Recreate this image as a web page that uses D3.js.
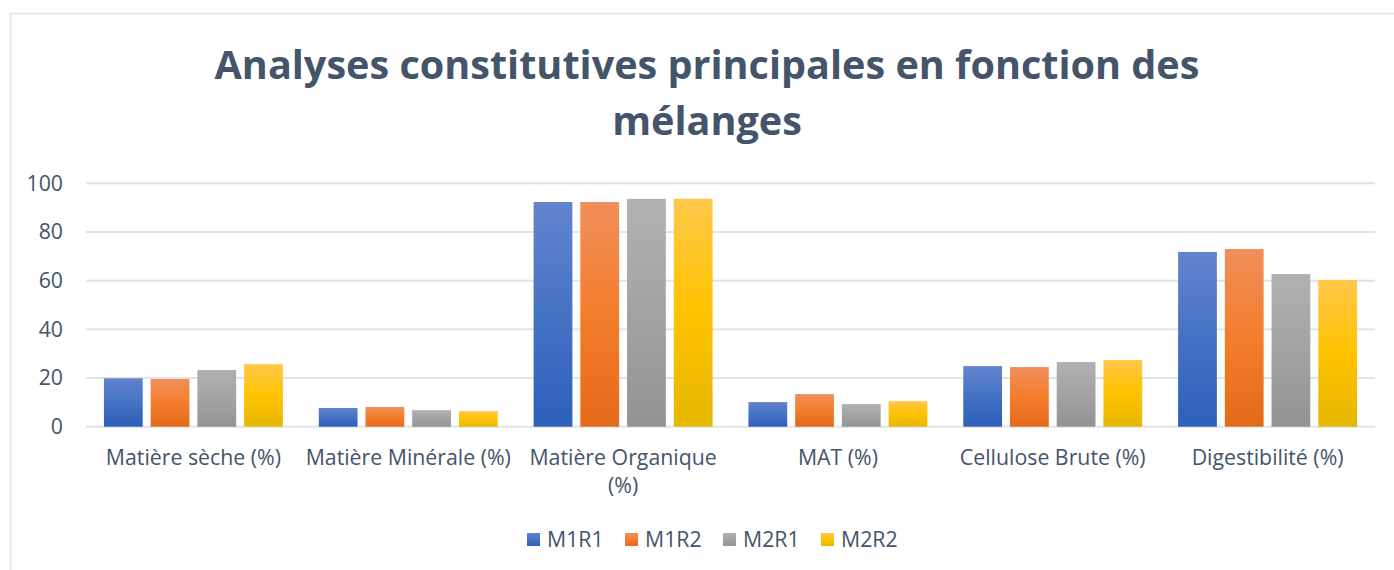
<!DOCTYPE html>
<html>
<head>
<meta charset="utf-8">
<script src="https://cdn.jsdelivr.net/npm/d3@7"></script>
<style>
    html, body { margin: 0; padding: 0; background: #ffffff; }
    svg { display: block; font-family: "Open Sans", "Noto Sans", sans-serif; }
</style>
</head>
<body>
<div id="chart"></div>
<script>
"use strict";

// categories along the x axis
const categories = [
    "Matière sèche (%)",
    "Matière Minérale (%)",
    "Matière Organique (%)",
    "MAT (%)",
    "Cellulose Brute (%)",
    "Digestibilité (%)"
];

const seriesNames = [ "M1R1", "M1R2", "M2R1", "M2R2" ];

// values, one array per series
const M1R1 = [ 19.9, 7.7, 92.3, 10.1, 24.9, 71.8 ];
const M1R2 = [ 19.6, 8.1, 92.3, 13.4, 24.5, 73.0 ];
const M2R1 = [ 23.3, 6.8, 93.6, 9.3, 26.6, 62.7 ];
const M2R2 = [ 25.7, 6.4, 93.6, 10.5, 27.4, 60.3 ];

const yTicks = [ 0, 20, 40, 60, 80, 100 ];

const titleLines = [ "Analyses constitutives principales en fonction des", "mélanges" ];

const seriesValues = [ M1R1, M1R2, M2R1, M2R2 ];

// top / middle / bottom colours of each bar gradient
const gradients = {
    M1R1: [ "#6384cd", "#4472c4", "#2e5fb9" ],
    M1R2: [ "#f08f5a", "#f47d2c", "#e36a18" ],
    M2R1: [ "#b1b1b1", "#a3a3a3", "#939393" ],
    M2R2: [ "#ffc84a", "#ffc300", "#e5b700" ]
};

const textColor = "#44546a";
const gridColor = "#dfe3ea";
const labelSize = 21.3;

const W = 1394, H = 570;
const plot = { left: 86, right: 1375, top: 183.3, bottom: 426.7 };

const svg = d3.select("#chart")
    .append("svg")
    .attr("width", W)
    .attr("height", H);

const defs = svg.append("defs");

seriesNames.forEach(function(name) {
    const g = defs.append("linearGradient")
        .attr("id", "grad-" + name)
        .attr("x1", 0).attr("y1", 0)
        .attr("x2", 0).attr("y2", 1);
    const c = gradients[name];
    g.append("stop").attr("offset", "0%").attr("stop-color", c[0]);
    g.append("stop").attr("offset", "50%").attr("stop-color", c[1]);
    g.append("stop").attr("offset", "100%").attr("stop-color", c[2]);
});

// chart frame
svg.append("rect")
    .attr("x", 10.5)
    .attr("y", 13.5)
    .attr("width", 1400)
    .attr("height", 600)
    .attr("fill", "none")
    .attr("stroke", gridColor)
    .attr("stroke-width", 1.5);

// title
const title = svg.append("g")
    .attr("font-weight", "bold")
    .attr("fill", textColor)
    .attr("text-anchor", "middle");

const t1 = title.append("text")
    .attr("x", 707)
    .attr("y", 79)
    .attr("font-size", 40)
    .text(titleLines[0]);

// shrink / grow the title font so that the first line has the reference width
const titleSize = 40 * 985 / t1.node().getComputedTextLength();
t1.attr("font-size", titleSize);

title.append("text")
    .attr("x", 707)
    .attr("y", 135)
    .attr("font-size", titleSize)
    .text(titleLines[1]);

// scales
const x0 = d3.scaleBand()
    .domain(categories)
    .range([plot.left, plot.right])
    .paddingInner(0.167)
    .paddingOuter(0.0835);

const x1 = d3.scaleBand()
    .domain(seriesNames)
    .range([0, x0.bandwidth()])
    .paddingInner(0.17);

const y = d3.scaleLinear()
    .domain([0, 100])
    .range([plot.bottom, plot.top]);

// gridlines
svg.append("g")
    .selectAll("line")
    .data(yTicks)
    .join("line")
    .attr("x1", plot.left)
    .attr("x2", plot.right)
    .attr("y1", d => y(d))
    .attr("y2", d => y(d))
    .attr("stroke", gridColor)
    .attr("stroke-width", 2);

// y axis labels
const yAxis = svg.append("g")
    .attr("transform", "translate(" + (plot.left - 23) + ",0)")
    .call(d3.axisLeft(y).tickValues(yTicks).tickSize(0).tickPadding(0));

yAxis.select(".domain").remove();
yAxis.selectAll("text")
    .attr("fill", textColor)
    .attr("font-size", labelSize)
    .attr("font-family", "\"Open Sans\", sans-serif");

// bars
const groups = svg.append("g")
    .selectAll("g")
    .data(categories)
    .join("g")
    .attr("transform", d => "translate(" + x0(d) + ",0)");

groups.selectAll("rect")
    .data((d, i) => seriesNames.map((s, j) => ({ series: s, value: seriesValues[j][i] })))
    .join("rect")
    .attr("x", d => x1(d.series))
    .attr("width", x1.bandwidth())
    .attr("y", d => y(d.value))
    .attr("height", d => y(0) - y(d.value))
    .attr("fill", d => "url(#grad-" + d.series + ")");

// x axis labels, wrapped to the category width like the original
const xAxis = svg.append("g")
    .attr("transform", "translate(0," + plot.bottom + ")")
    .call(d3.axisBottom(x0).tickSize(0).tickPadding(0));

xAxis.select(".domain").remove();

xAxis.selectAll("text")
    .attr("fill", textColor)
    .attr("font-size", labelSize)
    .attr("font-family", "\"Open Sans\", sans-serif")
    .attr("dy", null)
    .attr("y", 38)
    .each(function(d) {
        const text = d3.select(this);
        const words = d.split(" ");
        const maxWidth = x0.step();
        text.text(null);
        let line = [];
        let tspan = text.append("tspan").attr("x", 0).attr("dy", 0);
        words.forEach(function(w) {
            line.push(w);
            tspan.text(line.join(" "));
            if (tspan.node().getComputedTextLength() > maxWidth && line.length > 1) {
                line.pop();
                tspan.text(line.join(" "));
                line = [ w ];
                tspan = text.append("tspan").attr("x", 0).attr("dy", 28).text(w);
            }
        });
    });

// legend
const legend = svg.append("g")
    .attr("transform", "translate(527,533)");

const item = legend.selectAll("g")
    .data(seriesNames)
    .join("g")
    .attr("transform", (d, i) => "translate(" + (i * 98) + ",0)");

item.append("rect")
    .attr("width", 13)
    .attr("height", 13)
    .attr("fill", d => "url(#grad-" + d + ")");

item.append("text")
    .attr("x", 20)
    .attr("y", 14)
    .attr("font-size", labelSize)
    .attr("fill", textColor)
    .text(d => d);
</script>
</body>
</html>
